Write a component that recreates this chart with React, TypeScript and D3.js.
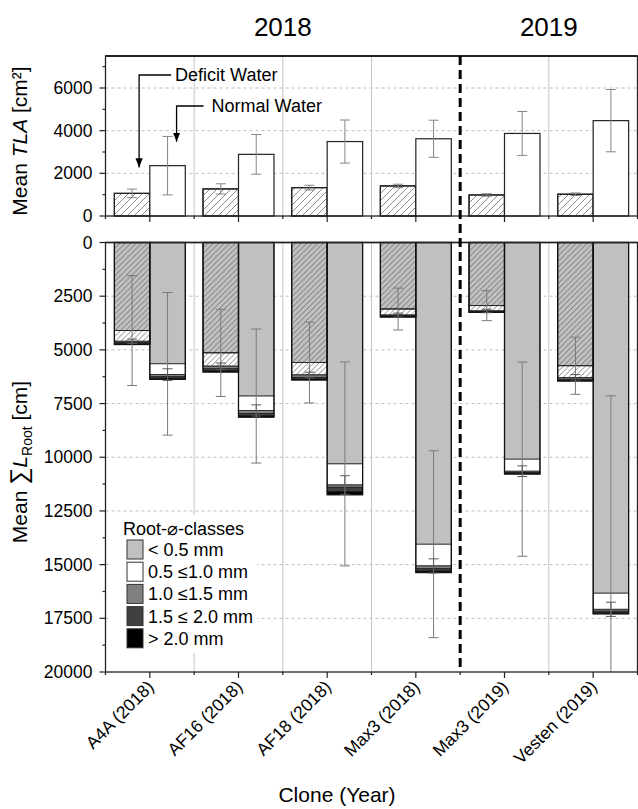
import React from "react";
import * as d3 from "d3";

const categories = ["A4A (2018)", "AF16 (2018)", "AF18 (2018)", "Max3 (2018)", "Max3 (2019)", "Vesten (2019)"];
const conditions = ["deficit", "normal"];

// Mean total leaf area [cm²]
const tlaDeficit = [1060, 1270, 1330, 1410, 985, 1020];
const tlaDeficitSd = [200, 240, 110, 80, 60, 60];
const tlaNormal = [2360, 2890, 3490, 3620, 3870, 4470];
const tlaNormalSd = [1370, 930, 1010, 870, 1030, 1460];

// Mean root length per diameter class [cm], deficit water
const defLt05 = [4100, 5140, 5590, 3100, 2940, 5740];
const def05to10 = [500, 620, 580, 280, 250, 560];
const def10to15 = [70, 120, 110, 40, 30, 70];
const def15to20 = [50, 90, 70, 30, 20, 50];
const defGt20 = [30, 60, 50, 20, 10, 30];
const defLt05Sd = [2560, 2030, 1880, 975, 700, 1330];
const def05to10Sd = [100, 150, 130, 90, 80, 150];

// normal water
const norLt05 = [5650, 7150, 10310, 14050, 10090, 16330];
const nor05to10 = [500, 670, 980, 1010, 560, 750];
const nor10to15 = [100, 140, 110, 130, 60, 90];
const nor15to20 = [70, 100, 190, 110, 40, 70];
const norGt20 = [50, 70, 155, 70, 30, 50];
const norLt05Sd = [3320, 3120, 4750, 4350, 4520, 9190];
const nor05to10Sd = [270, 260, 430, 330, 250, 330];

const classKeys = ["c0", "c1", "c2", "c3", "c4"];
const classLabels = ["< 0.5 mm", "0.5 \u22641.0 mm", "1.0 \u22641.5 mm", "1.5 \u2264 2.0 mm", "> 2.0 mm"];
const classColors = ["#c0c0c0", "#ffffff", "#808080", "#404040", "#000000"];

const topTicks = [0, 2000, 4000, 6000];
const topMinor = [1000, 3000, 5000, 7000];
const botTicks = [0, 2500, 5000, 7500, 10000, 12500, 15000, 17500, 20000];
const botMinor = [1250, 3750, 6250, 8750, 11250, 13750, 16250, 18750];

const FONT = "'Liberation Sans', Arial, sans-serif";

export default function App() {
  const left = 105.5, right = 637.5;
  const x = d3.scaleBand().domain(categories).range([left, right]);
  const xs = d3.scaleBand().domain(conditions).range([0, x.bandwidth()]).paddingOuter(0.25);
  const bw = xs.bandwidth();
  const yTop = d3.scaleLinear().domain([0, 7500]).range([216, 56]);
  const yBot = d3.scaleLinear().domain([0, 20000]).range([242.5, 672]);

  const rows = categories.flatMap((c, i) => [
    { cat: c, cond: "deficit", c0: defLt05[i], c1: def05to10[i], c2: def10to15[i], c3: def15to20[i], c4: defGt20[i], e0: defLt05Sd[i], e1: def05to10Sd[i] },
    { cat: c, cond: "normal", c0: norLt05[i], c1: nor05to10[i], c2: nor10to15[i], c3: nor15to20[i], c4: norGt20[i], e0: norLt05Sd[i], e1: nor05to10Sd[i] },
  ]);
  const series = d3.stack().keys(classKeys)(rows as any);

  const tlaRows = categories.flatMap((c, i) => [
    { cat: c, cond: "deficit", v: tlaDeficit[i], e: tlaDeficitSd[i] },
    { cat: c, cond: "normal", v: tlaNormal[i], e: tlaNormalSd[i] },
  ]);

  const bx = (cat: string, cond: string) => (x(cat) as number) + (xs(cond) as number);
  const centers = categories.map(c => (x(c) as number) + x.bandwidth() / 2);
  const bounds = categories.map(c => x(c) as number).concat([right]);
  const yearSplit = x(categories[4]) as number;

  const errBar = (cx: number, y1: number, y2: number, key: string, stroke = "#858585") => (
    <g key={key} stroke={stroke} strokeWidth={1}>
      <line x1={cx} x2={cx} y1={y1} y2={y2} />
      <line x1={cx - 5} x2={cx + 5} y1={y1} y2={y1} />
      <line x1={cx - 5} x2={cx + 5} y1={y2} y2={y2} />
    </g>
  );

  // annotation arrows, anchored on the first clone's bars
  const defArrowX = bx(categories[0], "deficit") + bw / 2 + 7;
  const norArrowX = bx(categories[0], "normal") + bw / 2 + 9;

  return (
    <svg width={638} height={809} style={{ position: "absolute", left: 0, top: 0, background: "#fff" }} fontFamily={FONT}>
      <defs>
        <pattern id="hatchTop" patternUnits="userSpaceOnUse" width={7} height={7}>
          <path d="M-1,1 l2,-2 M0,7 l7,-7 M6,8 l2,-2" stroke="#707070" strokeWidth={0.8} />
        </pattern>
        <pattern id="hatchBot" patternUnits="userSpaceOnUse" width={5.5} height={5.5}>
          <path d="M-1,1 l2,-2 M0,5.5 l5.5,-5.5 M4.5,6.5 l2,-2" stroke="#555" strokeWidth={0.7} />
        </pattern>
        <clipPath id="botClip">
          <rect x={left} y={242.5} width={right - left} height={672 - 242.5} />
        </clipPath>
        <marker id="arrowHead" viewBox="0 0 10 10" refX={10} refY={5} markerWidth={7} markerHeight={9} orient="auto">
          <path d="M0,1 L10,5 L0,9 z" fill="#000" />
        </marker>
      </defs>

      {/* year headers */}
      <text x={(left + yearSplit) / 2} y={36} fontSize={26} textAnchor="middle">2018</text>
      <text x={(yearSplit + right) / 2} y={36} fontSize={26} textAnchor="middle">2019</text>

      {/* ---------- top panel: TLA ---------- */}
      <g>
        {topTicks.slice(1).map(t => (
          <line key={t} x1={left} x2={right} y1={yTop(t)} y2={yTop(t)} stroke="#bdbdbd" strokeDasharray="3,3" />
        ))}
        {bounds.slice(1, -1).map((b, i) => i + 1 === 4 ? null : (
          <line key={b} x1={b} x2={b} y1={56} y2={216} stroke="#c4c4c4" />
        ))}
        {tlaRows.map((d, i) => (
          <g key={i}>
            <rect x={bx(d.cat, d.cond)} y={yTop(d.v)} width={bw} height={yTop(0) - yTop(d.v)} fill="#fff" stroke="#222" strokeWidth={1.2} />
            {d.cond === "deficit" && (
              <rect x={bx(d.cat, d.cond)} y={yTop(d.v)} width={bw} height={yTop(0) - yTop(d.v)} fill="url(#hatchTop)" stroke="#222" strokeWidth={1.2} />
            )}
          </g>
        ))}
        {tlaRows.map((d, i) => errBar(bx(d.cat, d.cond) + bw / 2, yTop(d.v + d.e), yTop(d.v - d.e), "te" + i))}
        <rect x={left} y={56} width={right - left} height={216 - 56} fill="none" stroke="#222" strokeWidth={1.3} />
        <line x1={left} x2={right} y1={56} y2={56} stroke="#222" strokeWidth={2} />
        {/* left axis */}
        {topTicks.map(t => (
          <g key={t}>
            <line x1={left - 6} x2={left} y1={yTop(t)} y2={yTop(t)} stroke="#222" strokeWidth={1.2} />
            <text x={left - 13} y={yTop(t)} dy="0.35em" fontSize={17.5} textAnchor="end">{t}</text>
          </g>
        ))}
        {topMinor.map(t => (
          <line key={t} x1={left - 3} x2={left} y1={yTop(t)} y2={yTop(t)} stroke="#222" strokeWidth={1.2} />
        ))}
        {centers.map(c => <line key={c} x1={c} x2={c} y1={216} y2={222} stroke="#222" strokeWidth={1.2} />)}
        {bounds.map(b => <line key={b} x1={b} x2={b} y1={216} y2={219} stroke="#222" strokeWidth={1.2} />)}
        <text transform={`translate(27,${(56 + 216) / 2 + 5}) rotate(-90)`} fontSize={21} textAnchor="middle">
          Mean <tspan fontStyle="italic">TLA</tspan> [cm²]
        </text>

        {/* annotations */}
        <polyline points={`${defArrowX + 32},75 ${defArrowX},75 ${defArrowX},${yTop(tlaDeficit[0]) - 26}`} fill="none" stroke="#000" strokeWidth={1.3} markerEnd="url(#arrowHead)" />
        <text x={defArrowX + 36} y={81} fontSize={18}>Deficit Water</text>
        <polyline points={`${norArrowX + 27},106 ${norArrowX},106 ${norArrowX},${yTop(tlaNormal[0]) - 24}`} fill="none" stroke="#000" strokeWidth={1.3} markerEnd="url(#arrowHead)" />
        <text x={norArrowX + 35} y={112} fontSize={18}>Normal Water</text>
      </g>

      {/* ---------- bottom panel: root length ---------- */}
      <g>
        {botTicks.slice(1, -1).map(t => (
          <line key={t} x1={left} x2={right} y1={yBot(t)} y2={yBot(t)} stroke="#bdbdbd" strokeDasharray="3,3" />
        ))}
        {bounds.slice(1, -1).map((b, i) => i + 1 === 4 ? null : (
          <line key={b} x1={b} x2={b} y1={242.5} y2={672} stroke="#c4c4c4" />
        ))}
        {series.map((s, k) => (
          <g key={s.key}>
            {s.map((seg: any, j: number) => {
              const d = seg.data;
              const xx = bx(d.cat, d.cond);
              const y0 = yBot(seg[0]);
              const h = yBot(seg[1]) - y0;
              return (
                <g key={j}>
                  <rect x={xx} y={y0} width={bw} height={h} fill={classColors[k]} stroke="#222" strokeWidth={0.8} />
                  {d.cond === "deficit" && k < 2 && (
                    <rect x={xx} y={y0} width={bw} height={h} fill="url(#hatchBot)" stroke="#222" strokeWidth={0.8} />
                  )}
                </g>
              );
            })}
          </g>
        ))}
        {rows.map((d, i) => {
          const xx = bx(d.cat, d.cond);
          const total = d.c0 + d.c1 + d.c2 + d.c3 + d.c4;
          return <rect key={"o" + i} x={xx} y={yBot(0)} width={bw} height={yBot(total) - yBot(0)} fill="none" stroke="#111" strokeWidth={1.3} />;
        })}
        <g clipPath="url(#botClip)">
          {rows.map((d, i) => {
            const cx = bx(d.cat, d.cond) + bw / 2;
            const top1 = d.c0 + d.c1;
            return (
              <g key={"be" + i}>
                {errBar(cx, yBot(d.c0 - d.e0), yBot(d.c0 + d.e0), "a" + i, "#7a7a7a")}
                {errBar(cx, yBot(top1 - d.e1), yBot(top1 + d.e1), "b" + i, "#5a5a5a")}
              </g>
            );
          })}
        </g>
        <rect x={left} y={242.5} width={right - left} height={672 - 242.5} fill="none" stroke="#222" strokeWidth={1.3} />
        <line x1={left} x2={right} y1={242.5} y2={242.5} stroke="#222" strokeWidth={1.6} />
        {botTicks.map(t => (
          <g key={t}>
            <line x1={left - 6} x2={left} y1={yBot(t)} y2={yBot(t)} stroke="#222" strokeWidth={1.2} />
            <text x={left - 13} y={yBot(t)} dy="0.35em" fontSize={17.5} textAnchor="end">{t}</text>
          </g>
        ))}
        {botMinor.map(t => (
          <line key={t} x1={left - 3} x2={left} y1={yBot(t)} y2={yBot(t)} stroke="#222" strokeWidth={1.2} />
        ))}
        {centers.map(c => <line key={c} x1={c} x2={c} y1={672} y2={678} stroke="#222" strokeWidth={1.2} />)}
        {bounds.map(b => <line key={b} x1={b} x2={b} y1={672} y2={675} stroke="#222" strokeWidth={1.2} />)}
        {categories.map((c, i) => (
          <text key={c} transform={`translate(${centers[i] + 5},${688}) rotate(-45)`} fontSize={17.5} textAnchor="end">{c}</text>
        ))}
        <text transform={`translate(27,${462}) rotate(-90)`} fontSize={21} textAnchor="middle">
          Mean <tspan fontSize={24}>{"\u2211"}</tspan><tspan fontStyle="italic">L</tspan>
          <tspan fontSize={14} dy={5}>Root</tspan><tspan dy={-5}> [cm]</tspan>
        </text>
        <text x={337} y={802} fontSize={21} textAnchor="middle">Clone (Year)</text>

        {/* legend */}
        <g>
          <rect x={111} y={515} width={146} height={138} fill="#fff" />
          <text x={123} y={535} fontSize={18}>Root-{"\u2300"}-classes</text>
          {classLabels.map((l, i) => (
            <g key={l} transform={`translate(127,${540 + i * 22.2})`}>
              <rect width={16} height={19} fill={classColors[i]} stroke="#333" strokeWidth={1} />
              <text x={21} y={9.5} dy="0.36em" fontSize={18}>{l}</text>
            </g>
          ))}
        </g>
      </g>

      {/* year separator */}
      <line x1={yearSplit} x2={yearSplit} y1={56} y2={672} stroke="#000" strokeWidth={3} strokeDasharray="9,5" />
    </svg>
  );
}
